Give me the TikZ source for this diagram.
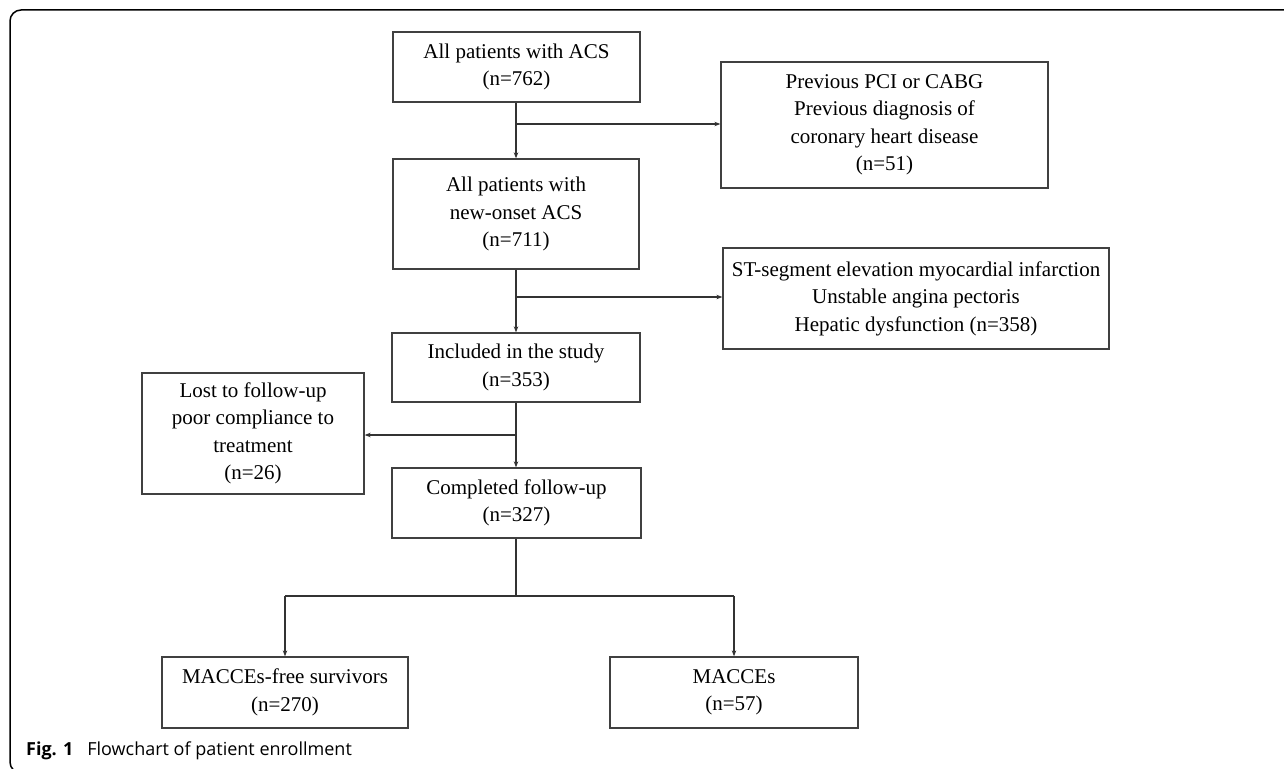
\documentclass[tikz,border=0pt]{standalone}
\usepackage{fontspec}
\setmainfont{Liberation Serif}
\newfontfamily\capfont{Open Sans}
\usetikzlibrary{arrows.meta}
\begin{document}
\begin{tikzpicture}[x=1pt,y=-1pt,
  box/.style={draw=black!75, line width=1.3pt, align=center, inner sep=0pt,
    font=\fontsize{21}{27.5}\selectfont},
  conn/.style={draw=black!80, line width=1.2pt},
  arr/.style={conn, -{Stealth[length=6pt,width=4.5pt]}}]
\useasboundingbox (0,0) rectangle (1284,768);
\begin{scope}
\clip (0,0) rectangle (1284,768);
\draw[line width=1.5pt, rounded corners=11pt] (10,10) rectangle (1310,773);
\end{scope}
% nodes
\node[box, minimum width=247pt, minimum height=70pt] (A) at (516.5,67) {All patients with ACS\\(n=762)};
\node[box, minimum width=327pt, minimum height=126pt] (B) at (884.5,125) {Previous PCI or CABG\\Previous diagnosis of\\coronary heart disease\\(n=51)};
\node[box, minimum width=246pt, minimum height=110pt] (C) at (516,214) {All patients with\\new-onset ACS\\(n=711)};
\node[box, minimum width=386pt, minimum height=101pt] (D) at (916,298.5) {ST-segment elevation myocardial infarction\\Unstable angina pectoris\\Hepatic dysfunction (n=358)};
\node[box, minimum width=248pt, minimum height=69pt] (E) at (516,367.5) {Included in the study\\(n=353)};
\node[box, minimum width=222pt, minimum height=121pt] (F) at (253,433.5) {Lost to follow-up\\poor compliance to\\treatment\\(n=26)};
\node[box, minimum width=249pt, minimum height=70pt] (G) at (516.5,503) {Completed follow-up\\(n=327)};
\node[box, minimum width=246pt, minimum height=71pt] (H) at (285,692.5) {MACCEs-free survivors\\(n=270)};
\node[box, minimum width=248pt, minimum height=71pt] (I) at (734,692.5) {MACCEs\\(n=57)};
% junctions
\coordinate (j0) at (516,124);
\coordinate (j1) at (516,297);
\coordinate (j2) at (516,435);
\coordinate (j3) at (516,596);
% connectors
\draw[arr] (A.south -| j0) -- (C.north -| j0);
\draw[arr] (j0) -- (j0 -| B.west);
\draw[arr] (C.south -| j1) -- (E.north -| j1);
\draw[arr] (j1) -- (j1 -| D.west);
\draw[arr] (E.south -| j2) -- (G.north -| j2);
\draw[arr] (j2) -- (j2 -| F.east);
\draw[conn] (G.south -| j3) -- (j3);
\draw[conn] (H.north |- j3) -- (I.north |- j3);
\draw[arr] (H.north |- j3) -- (H.north);
\draw[arr] (I.north |- j3) -- (I.north);
% caption
\node[anchor=base west, inner sep=0pt, font=\capfont\fontsize{18}{22}\selectfont] (cap) at (26,755) {\textbf{Fig. 1}\hspace{14pt}Flowchart of patient enrollment};
\end{tikzpicture}
\end{document}
